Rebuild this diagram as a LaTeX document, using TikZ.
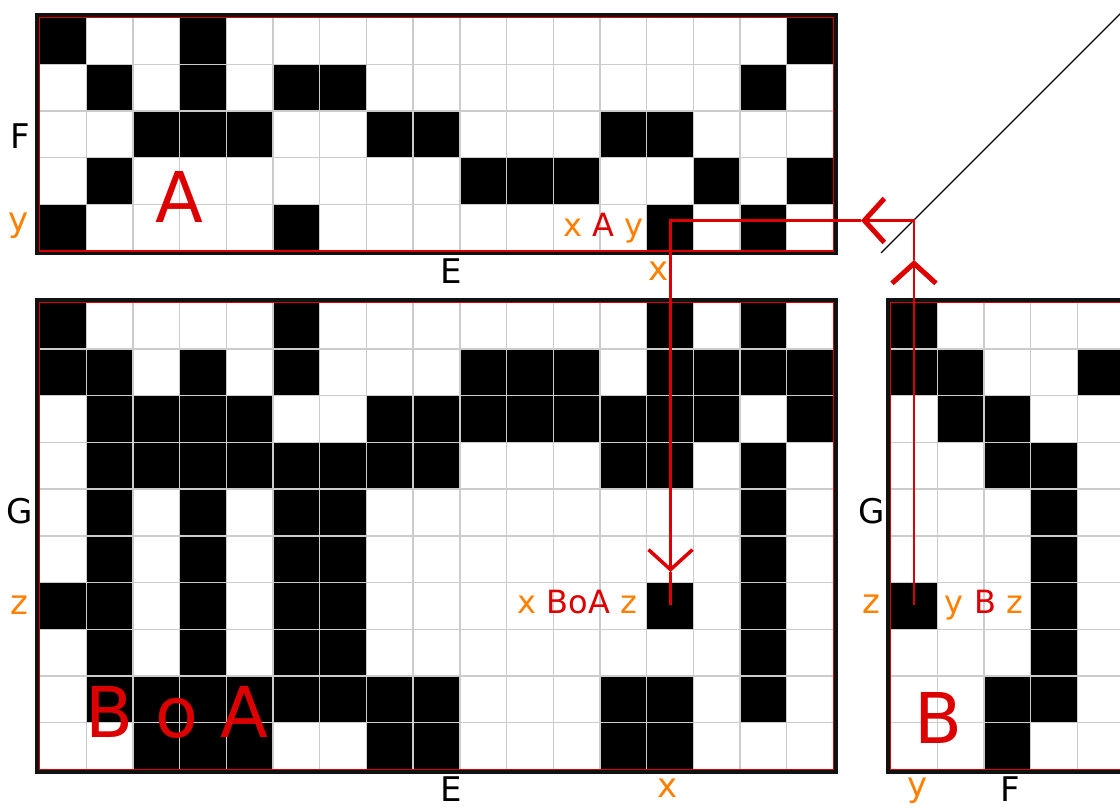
\documentclass[tikz,border=0pt]{standalone}
\usepackage{fontspec}
\setmainfont{DejaVu Sans}
\usetikzlibrary{arrows.meta}
\definecolor{markred}{HTML}{DD0000}
\definecolor{idxorange}{HTML}{FF8000}
\definecolor{gridgray}{HTML}{CCCCCC}
\definecolor{framegray}{HTML}{111111}

\begin{document}
\begin{tikzpicture}[x=1pt,y=-1pt,
  gridline/.style={gridgray,line width=1.4pt},
  outerframe/.style={framegray,line width=3.4pt},
  innerframe/.style={markred,line width=1.5pt},
  axislbl/.style={font=\fontsize{34}{34}\selectfont,anchor=base,inner sep=0pt},
  idxlbl/.style={axislbl,text=idxorange},
  pairlbl/.style={font=\fontsize{32}{32}\selectfont,anchor=base,inner sep=0pt,text=markred},
  biglbl/.style={font=\fontsize{70}{70}\selectfont,anchor=base,inner sep=0pt,text=markred},
  tracepath/.style={markred,line width=2.7pt},
  barb/.style={-{Straight Barb[length=20pt,width=44pt,line width=5pt]}}]
\useasboundingbox (0,0) rectangle (1120,807);
\clip (0,0) rectangle (1120,807);
\def\cw{46.7}
\foreach \r/\cols in {0/{0,3,16},1/{1,3,5,6,15},2/{2,3,4,7,8,12,13},3/{1,9,10,11,14,16},4/{0,5,13,15}}{\foreach \k in \cols {\fill (39.5+\k*\cw,17.5+\r*\cw) rectangle ++(\cw,\cw);}}
\foreach \r/\cols in {0/{0,5,13,15},1/{0,1,3,5,9,10,11,13,14,15,16},2/{1,2,3,4,7,8,9,10,11,12,13,14,16},3/{1,2,3,4,5,6,7,8,12,13,15},4/{1,3,5,6,15},5/{1,3,5,6,15},6/{0,1,3,5,6,13,15},7/{1,3,5,6,15},8/{1,2,3,4,5,6,7,8,12,13,15},9/{2,3,4,7,8,12,13}}{\foreach \k in \cols {\fill (39.5+\k*\cw,302.3+\r*\cw) rectangle ++(\cw,\cw);}}
\foreach \r/\cols in {0/{0},1/{0,1,4},2/{1,2},3/{2,3},4/{3},5/{3},6/{0,3},7/{3},8/{2,3},9/{2}}{\foreach \k in \cols {\fill (890.5+\k*\cw,302.3+\r*\cw) rectangle ++(\cw,\cw);}}
\foreach \i in {1,...,16}{\draw[gridline] (39.5+\i*\cw,17.5) -- ++(0,5*\cw);\draw[gridline] (39.5+\i*\cw,302.3) -- ++(0,10*\cw);}
\foreach \j in {1,...,4}{\draw[gridline] (39.5,17.5+\j*\cw) -- ++(17*\cw,0);}
\foreach \j in {1,...,9}{\draw[gridline] (39.5,302.3+\j*\cw) -- ++(17*\cw,0);\draw[gridline] (890.5,302.3+\j*\cw) -- ++(5*\cw,0);}
\foreach \i in {1,...,4}{\draw[gridline] (890.5+\i*\cw,302.3) -- ++(0,10*\cw);}
\draw[outerframe] (37,15) rectangle ++(17*\cw+5,5*\cw+5);
\draw[outerframe] (37,299.8) rectangle ++(17*\cw+5,10*\cw+5);
\draw[outerframe] (888,299.8) rectangle ++(5*\cw+5,10*\cw+5);
\draw[innerframe] (39.5,17.5) rectangle ++(17*\cw,5*\cw);
\draw[innerframe] (39.5,302.3) rectangle ++(17*\cw,10*\cw);
\draw[innerframe] (890.5,302.3) rectangle ++(5*\cw,10*\cw);
\node[axislbl] (Frow) at (20.5,148.5) {F};
\node[idxlbl] (yrow) at (19,231) {y};
\node[axislbl] (Ecol) at (451,283.5) {E};
\node[idxlbl] (xcol) at (659,280) {x};
\node[axislbl] (Grow) at (19.6,523) {G};
\node[idxlbl] (zrow) at (19.6,614) {z};
\node[axislbl] (Ecolb) at (451,801) {E};
\node[idxlbl] (xcolb) at (668,797) {x};
\node[axislbl] (Growb) at (872,523) {G};
\node[idxlbl] (zrowb) at (871,613) {z};
\node[idxlbl] (ycolb) at (918,796) {y};
\node[axislbl] (Fcolb) at (1010.6,801) {F};
\node[pairlbl] (xAy) at (603.5,236) {\textcolor{idxorange}{x} A \textcolor{idxorange}{y}};
\node[pairlbl] (xBoAz) at (577.5,613.3) {\textcolor{idxorange}{x} BoA \textcolor{idxorange}{z}};
\node[pairlbl] (yBz) at (984,613.3) {\textcolor{idxorange}{y} B \textcolor{idxorange}{z}};
\node[biglbl] (Aname) at (179.5,222) {A};
\node[biglbl] (BoAname) at (177,737.3) {B o A};
\node[biglbl] (Bname) at (939,743.3) {B};
\coordinate (diagS) at (881,253);
\coordinate (diagE) at (1128,6);
\draw[line width=1.3pt] (diagS) -- (diagE);
\coordinate (Bzy) at (914,605);
\coordinate (uptip) at (914,260);
\coordinate (bend) at (914,220.5);
\coordinate (lefttip) at (861,220.5);
\coordinate (Axy) at (670.5,220.5);
\coordinate (downtip) at (670.5,572);
\coordinate (BoAxz) at (670.5,605);
\draw[tracepath,barb] (Bzy) -- (uptip);
\draw[tracepath,barb] (uptip) -- (bend) -- (lefttip);
\draw[tracepath,-{Straight Barb[length=20pt,width=44pt,line width=3.5pt]}] (lefttip) -- (Axy) -- (downtip);
\draw[tracepath] (downtip) -- (BoAxz);
\end{tikzpicture}
\end{document}
